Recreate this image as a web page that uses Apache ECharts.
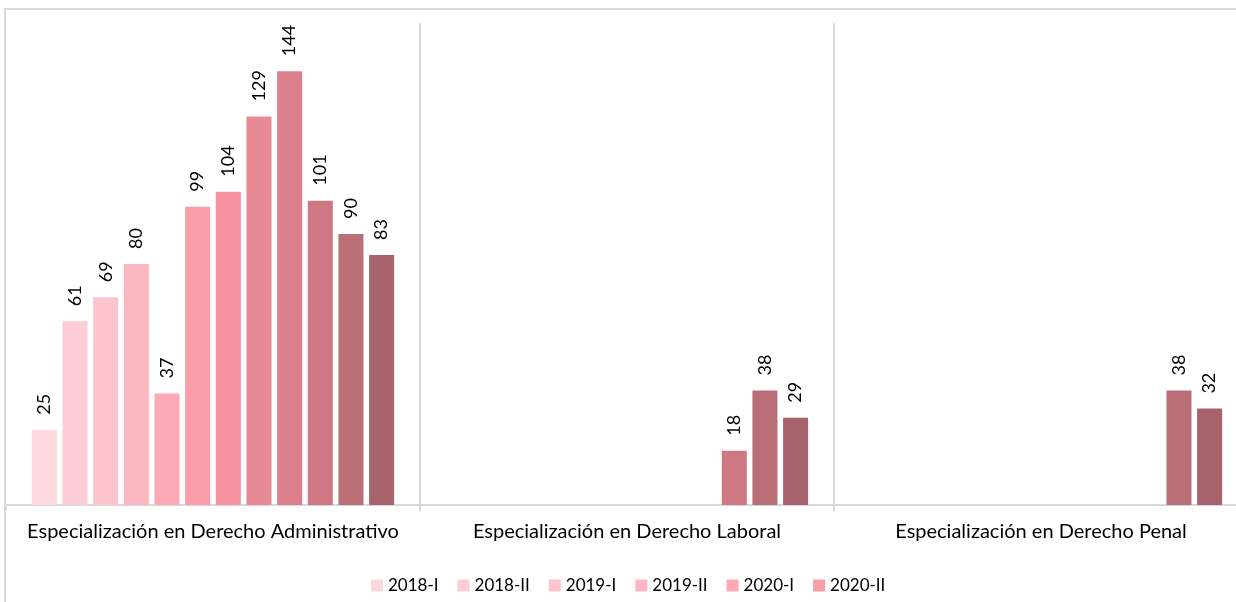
<!DOCTYPE html>
<html>
<head>
<meta charset="utf-8">
<script src="https://cdn.jsdelivr.net/npm/echarts@6/dist/echarts.min.js"></script>
<style>
  html, body { margin: 0; padding: 0; background: #fff; overflow: hidden; }
  #chart { width: 1256px; height: 602px; }
</style>
</head>
<body>
<div id="chart"></div>
<script>
const categories = [
  "Especialización en Derecho Administrativo",
  "Especialización en Derecho Laboral",
  "Especialización en Derecho Penal"
];
const periods = [
  "2018-I", "2018-II", "2019-I", "2019-II", "2020-I", "2020-II",
  "2021-I", "2021-II", "2022-I", "2022-II", "2023-I", "2023-II"
];
// one row per period: values for [Administrativo, Laboral, Penal]
const values = [
  [25, null, null],
  [61, null, null],
  [69, null, null],
  [80, null, null],
  [37, null, null],
  [99, null, null],
  [104, null, null],
  [129, null, null],
  [144, null, null],
  [101, 18, null],
  [90, 38, 38],
  [83, 29, 32]
];
const legendShown = periods.slice(0, 6);
const colors = [
  "#fdd9de", "#fdcdd5", "#fcc4cc", "#fdb7c1", "#fca9b5", "#fb9ca9",
  "#f793a0", "#e88a95", "#dc808b", "#ce7883", "#ba6e76", "#a7626c"
];

const font = "Lato, sans-serif";
const chart = echarts.init(document.getElementById("chart"));

const series = periods.map((p, i) => ({
  name: p,
  type: "bar",
  data: values[i],
  barCategoryGap: "12.5%",
  barGap: "22.5%",
  itemStyle: { color: colors[i] },
  label: {
    show: true,
    position: "top",
    rotate: 90,
    align: "left",
    verticalAlign: "middle",
    distance: 15,
    fontFamily: font,
    fontSize: 18,
    color: "#000"
  }
}));

chart.setOption({
  animation: false,
  color: colors,
  graphic: [{
    type: "rect",
    shape: { x: 5, y: 9, width: 1400, height: 800 },
    style: { fill: "none", stroke: "#d9d9d9", lineWidth: 2 },
    silent: true
  }],
  legend: {
    data: legendShown,
    left: 366,
    top: 572,
    icon: "rect",
    itemWidth: 12,
    itemHeight: 12,
    itemGap: 19,
    textStyle: { fontFamily: font, fontSize: 17, color: "#000" }
  },
  grid: { left: 6, right: 8, top: 23, bottom: 97, containLabel: false },
  xAxis: {
    type: "category",
    data: categories,
    axisLine: { lineStyle: { color: "#d9d9d9", width: 2 } },
    axisTick: { show: true, interval: 0, length: 6, lineStyle: { color: "#d9d9d9", width: 2 } },
    splitLine: { show: true, interval: 0, showMinLine: false, showMaxLine: false, lineStyle: { color: "#d9d9d9", width: 2 } },
    axisLabel: { interval: 0, fontFamily: font, fontSize: 20, color: "#000", margin: 17 }
  },
  yAxis: {
    type: "value",
    min: 0,
    max: 160,
    show: false,
    splitLine: { show: false }
  },
  series: series
});
</script>
</body>
</html>
